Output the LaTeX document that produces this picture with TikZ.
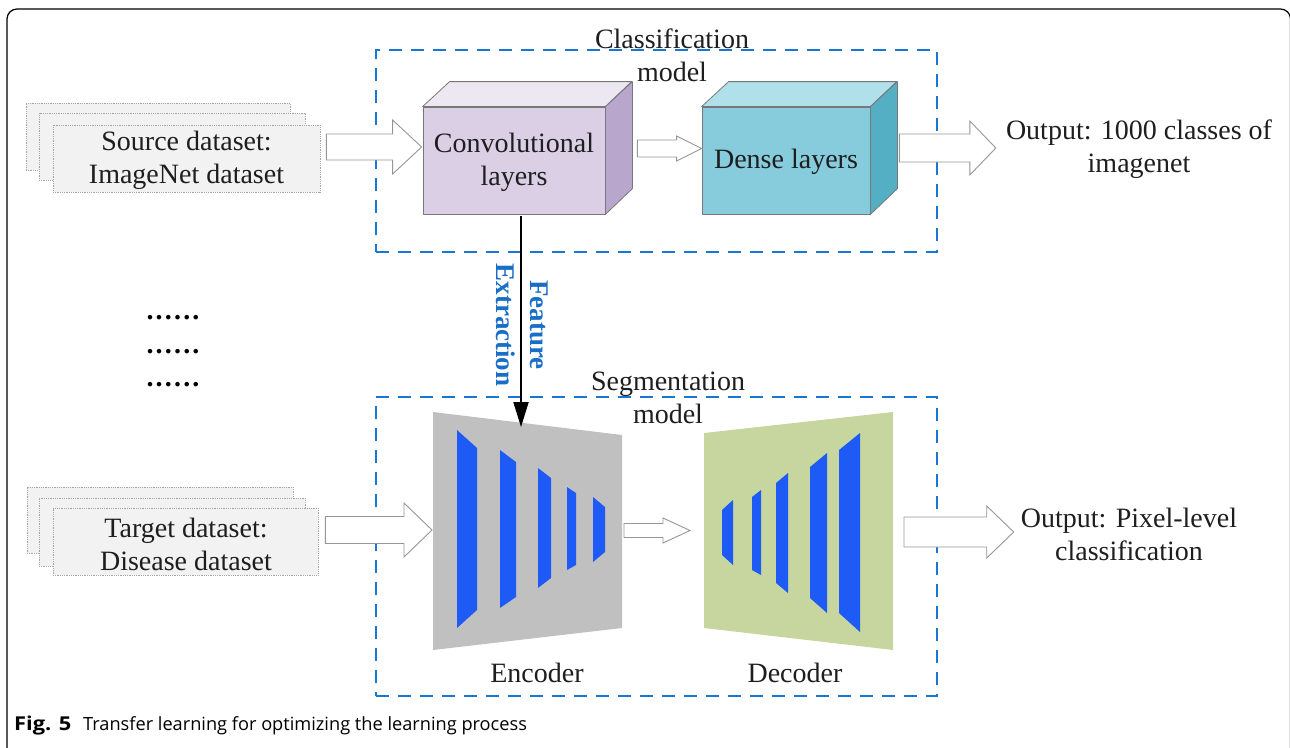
\documentclass[tikz,border=0pt]{standalone}
\usepackage{fontspec}
\usepackage{graphicx}
\setmainfont{Liberation Serif}
\newfontfamily\capfont{Open Sans}
\usetikzlibrary{arrows.meta,calc}

\definecolor{txtcol}{RGB}{30,30,30}
\definecolor{dsfill}{RGB}{242,242,242}
\definecolor{dsdraw}{RGB}{165,165,165}
\definecolor{arrgray}{RGB}{150,150,150}
\definecolor{dashblue}{RGB}{25,118,210}
\definecolor{featblue}{RGB}{25,110,200}
\definecolor{convF}{RGB}{219,207,230}
\definecolor{convT}{RGB}{236,231,241}
\definecolor{convS}{RGB}{184,166,204}
\definecolor{denseF}{RGB}{134,204,220}
\definecolor{denseT}{RGB}{176,224,234}
\definecolor{denseS}{RGB}{84,174,196}
\definecolor{encgray}{RGB}{192,192,192}
\definecolor{decgreen}{RGB}{199,214,158}
\definecolor{barblue}{RGB}{30,90,245}
\definecolor{edgegray}{RGB}{120,120,120}

\newcommand\hollowarrow[5]{%
  \draw[hollow] ($(#1)+(0,-#3)$) -- ($(#2)+(-#5,-#3)$) -- ($(#2)+(-#5,-#4)$) -- (#2)
    -- ($(#2)+(-#5,#4)$) -- ($(#2)+(-#5,#3)$) -- ($(#1)+(0,#3)$) -- cycle;}
\newcommand\trapbar[6]{\fill[barblue] (#1,#2) -- (#4,#5) -- (#4,#6) -- (#1,#3) -- cycle;}
\newcommand\mydotrow{.\hspace{2.2pt}.\hspace{2.2pt}.\hspace{2.2pt}.\hspace{2.2pt}.\hspace{2.2pt}.}

\begin{document}
\begin{tikzpicture}[x=1pt,y=-1pt,
  txt/.style={font=\fontsize{28}{33}\selectfont, text=txtcol, align=center, inner sep=0pt},
  dsbox/.style={fill=dsfill, draw=dsdraw, line width=0.8pt, densely dotted, inner sep=0pt},
  hollow/.style={draw=arrgray, fill=white, line width=0.9pt, line join=miter},
  dashbox/.style={draw=dashblue, line width=2.4pt, dash pattern=on 13pt off 9pt, inner sep=0pt},
  cubeedge/.style={draw=edgegray, line width=0.8pt, line join=round},
  feat/.style={font=\bfseries\fontsize{27}{34}\selectfont, text=featblue, align=center, inner sep=0pt},
  featarrow/.style={draw=black, line width=2pt, -{Triangle[width=15pt,length=25pt]}}
]
\useasboundingbox (0,0) rectangle (1290,747);
\begin{scope}
  \clip (0,0) rectangle (1290,747);
  \draw[line width=1.2pt, rounded corners=10pt] (7,9) rectangle (1290.5,765);
\end{scope}

% dashed model boxes
\node[dashbox, minimum width=561pt, minimum height=202pt] (clsBox) at (656.5,151) {};
\node[dashbox, minimum width=561pt, minimum height=299pt] (segBox) at (656.5,546.5) {};

% dataset stacks
\node[dsbox, minimum width=264pt, minimum height=67pt] (srcB) at (158,136.5) {};
\node[dsbox, minimum width=266pt, minimum height=67pt] (srcM) at (172,146.5) {};
\node[dsbox, minimum width=267pt, minimum height=67pt] (srcF) at (186.5,158.5) {};
\node[txt] (srcT) at (186.5,160.5) {Source dataset:\\ImageNet dataset};

\node[dsbox, minimum width=266pt, minimum height=66pt] (tgtB) at (160,520) {};
\node[dsbox, minimum width=266pt, minimum height=68pt] (tgtM) at (172,532) {};
\node[dsbox, minimum width=265pt, minimum height=67pt] (tgtF) at (185.5,541.5) {};
\node[txt] (tgtT) at (186,544) {Target dataset:\\Disease dataset};

% dots
\node[anchor=base, font=\bfseries\fontsize{28}{33}\selectfont, inner sep=0pt] (dots1) at (173,319) {\mydotrow};
\node[anchor=base, font=\bfseries\fontsize{28}{33}\selectfont, inner sep=0pt] (dots2) at (173,353) {\mydotrow};
\node[anchor=base, font=\bfseries\fontsize{28}{33}\selectfont, inner sep=0pt] (dots3) at (173,386) {\mydotrow};

% cubes
\node[fill=convF, cubeedge, minimum width=182pt, minimum height=107pt, inner sep=0pt] (conv) at (514,160.5) {};
\draw[cubeedge, fill=convT] (conv.north west) -- ++(27,-25) -- ++(182,0) -- (conv.north east) -- cycle;
\draw[cubeedge, fill=convS] (conv.north east) -- ++(27,-25) -- ++(0,107) -- (conv.south east) -- cycle;
\node[txt] (convT) at (514,162.5) {Convolutional\\layers};

\node[fill=denseF, cubeedge, minimum width=168pt, minimum height=107pt, inner sep=0pt] (dense) at (786,160.5) {};
\draw[cubeedge, fill=denseT] (dense.north west) -- ++(27,-25) -- ++(168,0) -- (dense.north east) -- cycle;
\draw[cubeedge, fill=denseS] (dense.north east) -- ++(27,-25) -- ++(0,107) -- (dense.south east) -- cycle;
\node[txt] (denseL) at (786,162) {Dense layers};

% encoder / decoder
\coordinate (encTL) at (433,412);
\coordinate (encTR) at (622,435);
\coordinate (encBR) at (622,628);
\coordinate (encBL) at (433,650);
\fill[encgray] (encTL) -- (encTR) -- (encBR) -- (encBL) -- cycle;
\trapbar{457}{430}{628}{477}{448}{610}
\trapbar{500}{450}{608}{516}{462}{597}
\trapbar{538}{468}{588}{551}{478}{578}
\trapbar{567}{487}{570}{576}{493}{565}
\trapbar{593}{497}{562}{605}{507}{552}

\coordinate (decTL) at (704,433);
\coordinate (decTR) at (893,412);
\coordinate (decBR) at (893,650);
\coordinate (decBL) at (704,628);
\fill[decgreen] (decTL) -- (decTR) -- (decBR) -- (decBL) -- cycle;
\trapbar{722}{510}{555}{733}{500}{565}
\trapbar{752}{497}{570}{761}{490}{575}
\trapbar{776}{483}{583}{788}{473}{593}
\trapbar{810}{467}{598}{827}{453}{613}
\trapbar{839}{450}{613}{860}{433}{632}

% labels
\node[txt] (clsT) at (672,55) {Classification\\model};
\node[txt] (segT) at (668,398) {Segmentation\\model};
\node[txt] (encL) at (537,673) {Encoder};
\node[txt] (decL) at (795,673) {Decoder};
\node[txt] (out1) at (1139,149) {Output: 1000 classes of\\imagenet};
\node[txt] (out2) at (1129,534) {Output: Pixel-level\\classification};

% hollow block arrows
\coordinate (a1s) at ($(srcF.east)+(6,-11.5)$);
\coordinate (a1e) at ($(conv.west)+(-1,-13.5)$);
\hollowarrow{a1s}{a1e}{13}{27}{29}
\coordinate (a2s) at ($(conv.east)+(32,-12)$);
\coordinate (a2e) at ($(dense.west)+(0,-12)$);
\hollowarrow{a2s}{a2e}{8.5}{12.5}{25}
\coordinate (a3s) at ($(dense.east)+(29,-12.5)$);
\coordinate (a3e) at ($(out1.west)+(-10,-1)$);
\hollowarrow{a3s}{a3e}{14}{27}{26}
\coordinate (a4s) at ($(tgtF.east)+(7,-11.5)$);
\coordinate (a4e) at ($(encTL)!0.5!(encBL)+(-1,-1)$);
\hollowarrow{a4s}{a4e}{13.5}{27}{28}
\coordinate (a5s) at ($(encTR)!0.5!(encBR)+(2,-1)$);
\coordinate (a5e) at ($(decTL)!0.5!(decBL)+(-14,0)$);
\hollowarrow{a5s}{a5e}{7}{12.5}{27}
\coordinate (a6s) at ($(decTR)!0.5!(decBR)+(11,1)$);
\coordinate (a6e) at ($(out2.west)+(-7,-2)$);
\hollowarrow{a6s}{a6e}{15}{26}{27}

% feature extraction
\coordinate (fxs) at ($(conv.south)+(7,2)$);
\coordinate (fxe) at (521,427);
\draw[featarrow] (fxs) -- (fxe);
\node[feat, rotate=-90] (featL) at (522,325) {Feature\\Extraction};

% caption
\node[anchor=base west, inner sep=0pt, text=black, font=\capfont\fontsize{18.2}{21}\selectfont] (cap) at (14,730)
  {\makebox[69pt][l]{\scalebox{1.2}[1.05]{\textbf{Fig. 5}}}Transfer learning for optimizing the learning process};
\end{tikzpicture}
\end{document}
